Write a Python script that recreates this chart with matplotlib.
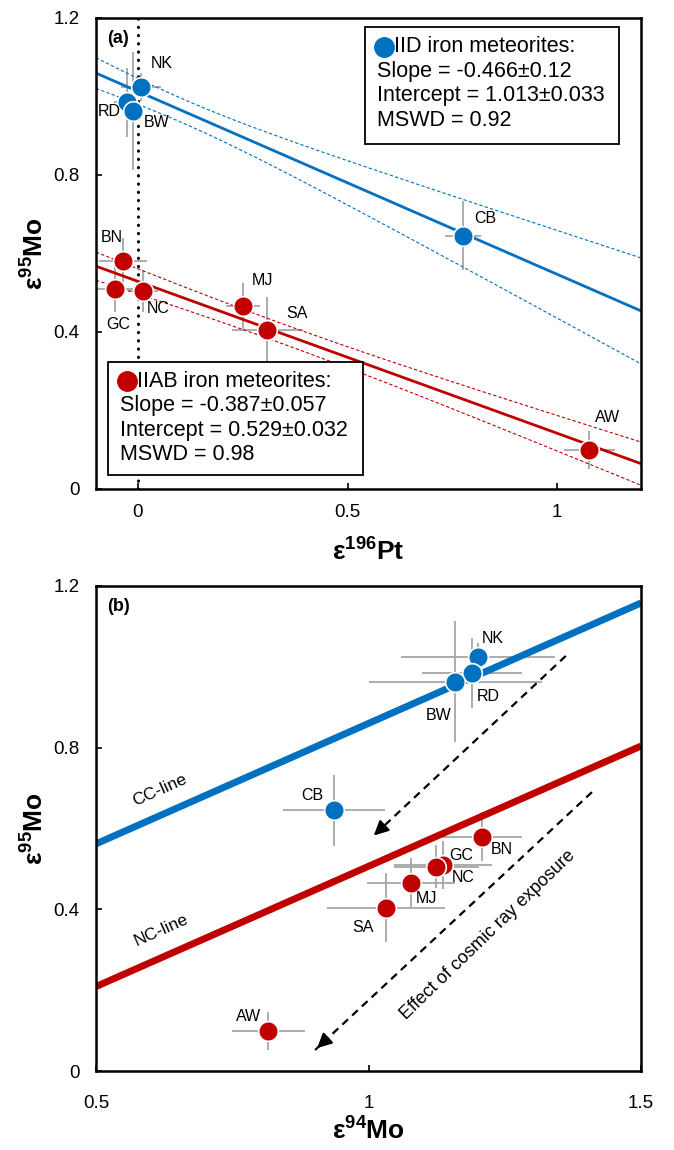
import numpy as np
import matplotlib
matplotlib.use("Agg")
import matplotlib.pyplot as plt
from matplotlib.patches import Rectangle
from matplotlib.lines import Line2D

plt.rcParams['font.family'] = ['Liberation Sans', 'DejaVu Sans']
plt.rcParams['mathtext.fontset'] = 'custom'
plt.rcParams['mathtext.bf'] = 'Liberation Sans:bold'
plt.rcParams['mathtext.rm'] = 'Liberation Sans'

# sample names
iid_names = ['NK', 'RD', 'BW', 'CB']
iiab_names = ['BN', 'GC', 'NC', 'MJ', 'SA', 'AW']

# e95Mo (shared by both panels)
iid_mo95 = [1.024, 0.985, 0.963, 0.645]
iid_mo95_err = [0.035, 0.087, 0.15, 0.088]
iiab_mo95 = [0.58, 0.51, 0.505, 0.466, 0.404, 0.099]
iiab_mo95_err = [0.06, 0.06, 0.053, 0.06, 0.085, 0.048]

# e196Pt (panel a)
iid_pt = [0.007, -0.027, -0.012, 0.776]
iid_pt_err = [0.048, 0.03, 0.02, 0.043]
iiab_pt = [-0.035, -0.055, 0.013, 0.251, 0.309, 1.077]
iiab_pt_err = [0.057, 0.043, 0.035, 0.04, 0.085, 0.06]

# e94Mo (panel b)
iid_mo94 = [1.201, 1.190, 1.159, 0.937]
iid_mo94_err = [0.142, 0.092, 0.159, 0.093]
iiab_mo94 = [1.208, 1.137, 1.124, 1.078, 1.032, 0.816]
iiab_mo94_err = [0.073, 0.09, 0.078, 0.08, 0.108, 0.067]

# regression results (panel a): slope, err, intercept, err, correlation
iid_fit = dict(slope=-0.466, slope_err=0.12, icpt=1.013, icpt_err=0.033, rho=-0.38, mswd=0.92)
iiab_fit = dict(slope=-0.387, slope_err=0.057, icpt=0.529, icpt_err=0.032, rho=-0.61, mswd=0.98)

# reference lines (panel b)
cc_line_x = [0.5, 1.5]
cc_line_y = [0.562, 1.158]
nc_line_x = [0.5, 1.5]
nc_line_y = [0.209, 0.804]

# cosmic ray arrows (panel b): start, end
cre_arrow1 = [(1.362, 1.027), (1.006, 0.578)]
cre_arrow2 = [(1.41, 0.69), (0.902, 0.052)]

y_ticks = [0, 0.4, 0.8, 1.2]
y_ticklabels = ['0', '0.4', '0.8', '1.2']
a_xticks = [0, 0.5, 1]
a_xticklabels = ['0', '0.5', '1']
b_xticks = [0.5, 1, 1.5]
b_xticklabels = ['0.5', '1', '1.5']

# label positions (data coords)
a_iid_lab = [(0.057, 1.083), (-0.069, 0.963), (0.045, 0.933), (0.828, 0.69)]
a_iiab_lab = [(-0.062, 0.642), (-0.047, 0.42), (0.048, 0.461), (0.298, 0.53), (0.38, 0.446), (1.121, 0.181)]
b_iid_lab = [(1.228, 1.069), (1.219, 0.926), (1.128, 0.879), (0.896, 0.681)]
b_iiab_lab = [(1.245, 0.547), (1.17, 0.532), (1.174, 0.48), (1.106, 0.426), (0.99, 0.356), (0.779, 0.136)]

BLUE = '#0070C0'
RED = '#C00000'
GREY = '#a6a6a6'
W, H = 674, 1150


def fx(px):
    return px / W


def fy(py):
    return 1 - py / H


fig = plt.figure(figsize=(6.74, 11.5), dpi=100)
ax1 = fig.add_axes([fx(96), fy(489), 545 / W, 471 / H])
ax2 = fig.add_axes([fx(96), fy(1071), 545 / W, 485 / H])


def style_axes(ax, xlim, xticks, xlabels, xlab, xpad, xlabpad):
    ax.set_xlim(*xlim)
    ax.set_ylim(0, 1.2)
    ax.set_yticks(y_ticks)
    ax.set_yticklabels(y_ticklabels)
    ax.set_xticks(xticks)
    ax.set_xticklabels(xlabels)
    ax.tick_params(direction='in', length=4, width=1.2, labelsize=13.5, colors='black')
    ax.tick_params(axis='y', pad=12)
    ax.tick_params(axis='x', pad=xpad)
    for s in ax.spines.values():
        s.set_linewidth(1.8)
    ax.set_xlabel(xlab, fontsize=19, fontweight='bold', labelpad=xlabpad)
    ax.set_ylabel('ε$\\mathbf{^{95}}$Mo', fontsize=19, fontweight='bold', labelpad=3)


def points(ax, x, y, xe, ye, color, names, labs):
    ax.errorbar(x, y, xerr=xe, yerr=ye, fmt='none', ecolor=GREY, elinewidth=1.3, capsize=0, zorder=1)
    ax.scatter(x, y, s=200, c=color, edgecolors='white', linewidths=1.2, zorder=4)
    for n, (lx, ly) in zip(names, labs):
        ax.text(lx, ly, n, fontsize=11.5, ha='center', va='center', zorder=5)


# ---- panel (a)
style_axes(ax1, (-0.1, 1.2), a_xticks, a_xticklabels, 'ε$\\mathbf{^{196}}$Pt', 11, 12)
ax1.axvline(0, color='black', lw=2.2, ls=(0, (0.1, 2.6)), dash_capstyle='round', zorder=0)
xs = np.linspace(-0.1, 1.2, 200)
for fit, col in [(iid_fit, BLUE), (iiab_fit, RED)]:
    yfit = fit['icpt'] + fit['slope'] * xs
    cov = fit['rho'] * fit['icpt_err'] * fit['slope_err']
    half = np.sqrt(fit['icpt_err'] ** 2 + 2 * xs * cov + (xs * fit['slope_err']) ** 2)
    ax1.plot(xs, yfit, color=col, lw=2, zorder=2)
    ax1.plot(xs, yfit + half, color=col, lw=0.8, ls=(0, (3, 2)), zorder=2)
    ax1.plot(xs, yfit - half, color=col, lw=0.8, ls=(0, (3, 2)), zorder=2)
points(ax1, iid_pt, iid_mo95, iid_pt_err, iid_mo95_err, BLUE, iid_names, a_iid_lab)
points(ax1, iiab_pt, iiab_mo95, iiab_pt_err, iiab_mo95_err, RED, iiab_names, a_iiab_lab)
ax1.text(0.02, 0.975, '(a)', transform=ax1.transAxes, fontsize=13, fontweight='bold', va='top', ha='left')


def fit_box(x0, y0, x1, y1, color, title, fit):
    fig.add_artist(Rectangle((fx(x0), fy(y1)), fx(x1 - x0), (y1 - y0) / H, transform=fig.transFigure,
                             facecolor='white', edgecolor='black', lw=1.3, zorder=5))
    rows = [title,
            'Slope = %.3f±%s' % (fit['slope'], ('%.3f' % fit['slope_err']).rstrip('0')),
            'Intercept = %.3f±%.3f' % (fit['icpt'], fit['icpt_err']),
            'MSWD = %.2f' % fit['mswd']]
    ys = [y0 + 19.5 + 24.5 * i for i in range(4)]
    fig.add_artist(Line2D([fx(x0 + 19)], [fy(ys[0])], marker='o', ms=14, color=color,
                          transform=fig.transFigure, zorder=6))
    fig.text(fx(x0 + 29), fy(ys[0]), rows[0], fontsize=15.5, va='center', ha='left', zorder=6)
    for r, yy in zip(rows[1:], ys[1:]):
        fig.text(fx(x0 + 12), fy(yy), r, fontsize=15.5, va='center', ha='left', zorder=6)


fit_box(365, 27, 619, 144, BLUE, 'IID iron meteorites:', iid_fit)
fit_box(108, 362, 363, 475, RED, 'IIAB iron meteorites:', iiab_fit)

# ---- panel (b)
style_axes(ax2, (0.5, 1.5), b_xticks, b_xticklabels, 'ε$\\mathbf{^{94}}$Mo', 17, 4)
ax2.plot(cc_line_x, cc_line_y, color=BLUE, lw=5, solid_capstyle='butt', zorder=2)
ax2.plot(nc_line_x, nc_line_y, color=RED, lw=5, solid_capstyle='butt', zorder=2)
points(ax2, iid_mo94, iid_mo95, iid_mo94_err, iid_mo95_err, BLUE, iid_names, b_iid_lab)
points(ax2, iiab_mo94, iiab_mo95, iiab_mo94_err, iiab_mo95_err, RED, iiab_names, b_iiab_lab)
for (sx, sy), (ex, ey) in [cre_arrow1, cre_arrow2]:
    ax2.plot([sx, ex], [sy, ey], color='black', lw=1.6, ls=(0, (3.5, 2.5)), zorder=3)
    ax2.annotate('', xy=(ex, ey), xytext=(ex + 0.04 * (sx - ex), ey + 0.04 * (sy - ey)),
                 arrowprops=dict(arrowstyle='-|>', color='black', lw=1.5, mutation_scale=22), zorder=3)
ax2.text(0.617, 0.696, 'CC-line', fontsize=12.5, rotation=24, ha='center', va='center')
ax2.text(0.619, 0.349, 'NC-line', fontsize=12.5, rotation=24, ha='center', va='center')
ax2.text(1.219, 0.337, 'Effect of cosmic ray exposure', fontsize=13, rotation=44,
         ha='center', va='center', rotation_mode='anchor')
ax2.text(0.02, 0.975, '(b)', transform=ax2.transAxes, fontsize=13, fontweight='bold', va='top', ha='left')

fig.savefig('out.png', dpi=100)
